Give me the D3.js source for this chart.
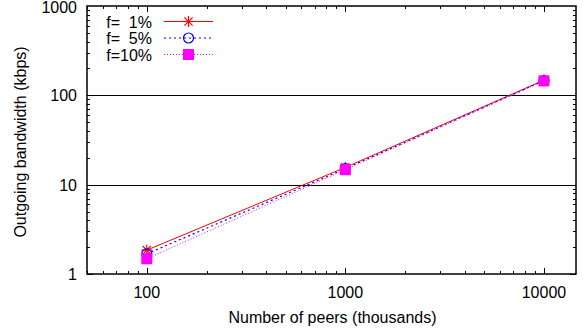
<!DOCTYPE html>
<html lang="en">
  <head>
    <meta charset="utf-8">
    <title>Outgoing bandwidth</title>
    <style>
      body { margin: 0; background: #fff; }
      text { font-family: "Liberation Sans", Arial, sans-serif; fill: #000; }
    </style>
  </head>
  <body>
    <svg id="chart"></svg>

    <script src="https://d3js.org/d3.v7.min.js"></script>

    <script type="text/javascript">
      // data
      const peers = [100, 1000, 10000];
      const f1 = [1.85, 15.6, 148];
      const f5 = [1.68, 15.1, 146];
      const f10 = [1.48, 14.7, 145];
      const seriesNames = ['f=  1%', 'f=  5%', 'f=10%'];
      const xTicks = [100, 1000, 10000];
      const yTicks = [1, 10, 100, 1000];
      const yGrid = [10, 100];

      const W = 584, H = 335;
      const pLeft = 87, pRight = 576, pTop = 6, pBottom = 274;
      const fs = 16;

      const svg = d3.select('#chart').attr('width', W).attr('height', H);

      const x = d3.scaleLog().domain([50, 14500]).range([pLeft, pRight]);
      const y = d3.scaleLog().domain([1, 1000]).range([pBottom, pTop]);

      // grid lines
      svg.selectAll('.grid').data(yGrid).join('line')
        .attr('x1', pLeft).attr('x2', pRight)
        .attr('y1', d => Math.round(y(d)) + 0.5).attr('y2', d => Math.round(y(d)) + 0.5)
        .attr('stroke', '#000').attr('stroke-width', 1);

      // minor and major ticks, mirrored on all sides
      const xMinor = [];
      for (let e = 10; e <= 10000; e *= 10)
        for (let m = 1; m < 10; m++) {
          const v = e * m;
          if (v >= 50 && v <= 14500) xMinor.push(v);
        }
      const yMinor = [];
      for (let e = 1; e < 1000; e *= 10)
        for (let m = 1; m < 10; m++) yMinor.push(e * m);

      const tickG = svg.append('g').attr('stroke', '#000').attr('stroke-width', 1);
      xMinor.forEach(v => {
        const len = xTicks.includes(v) ? 6 : 3;
        const px = Math.round(x(v)) + 0.5;
        tickG.append('line').attr('x1', px).attr('x2', px).attr('y1', pBottom).attr('y2', pBottom - len);
        tickG.append('line').attr('x1', px).attr('x2', px).attr('y1', pTop).attr('y2', pTop + len);
      });
      yMinor.forEach(v => {
        const len = yTicks.includes(v) ? 6 : 3;
        const py = Math.round(y(v)) + 0.5;
        tickG.append('line').attr('x1', pLeft).attr('x2', pLeft + len).attr('y1', py).attr('y2', py);
        tickG.append('line').attr('x1', pRight).attr('x2', pRight - len).attr('y1', py).attr('y2', py);
      });

      // tick labels
      svg.selectAll('.xl').data(xTicks).join('text')
        .attr('x', d => x(d)).attr('y', pBottom + 24)
        .attr('text-anchor', 'middle').attr('font-size', fs)
        .text(d => d);
      svg.selectAll('.yl').data(yTicks).join('text')
        .attr('x', pLeft - 10).attr('y', d => Math.max(y(d) + 6, 13))
        .attr('text-anchor', 'end').attr('font-size', fs)
        .text(d => d);

      // axis titles
      svg.append('text')
        .attr('x', (pLeft + pRight) / 2 + 1).attr('y', 323)
        .attr('text-anchor', 'middle').attr('font-size', fs)
        .text('Number of peers (thousands)');
      svg.append('text')
        .attr('transform', 'translate(25.5,142) rotate(-90)')
        .attr('text-anchor', 'middle').attr('font-size', fs)
        .text('Outgoing bandwidth (kbps)');

      // series
      const series = [
        { name: seriesNames[0], values: f1, color: '#ff0000', dash: null, width: 1, marker: 'star' },
        { name: seriesNames[1], values: f5, color: '#0000ff', dash: '2,3', width: 1.2, marker: 'circle' },
        { name: seriesNames[2], values: f10, color: '#ff00ff', dash: '1,2', width: 1, marker: 'square' }
      ];

      const line = d3.line().x(d => x(d[0])).y(d => y(d[1]));

      function drawMarker(g, kind, cx, cy, color) {
        if (kind === 'star') {
          const r = 5.5;
          const p = g.append('g').attr('stroke', color).attr('stroke-width', 1.2);
          p.append('line').attr('x1', cx - r).attr('x2', cx + r).attr('y1', cy).attr('y2', cy);
          p.append('line').attr('x1', cx).attr('x2', cx).attr('y1', cy - r).attr('y2', cy + r);
          p.append('line').attr('x1', cx - r * 0.75).attr('x2', cx + r * 0.75).attr('y1', cy - r * 0.75).attr('y2', cy + r * 0.75);
          p.append('line').attr('x1', cx - r * 0.75).attr('x2', cx + r * 0.75).attr('y1', cy + r * 0.75).attr('y2', cy - r * 0.75);
        } else if (kind === 'circle') {
          g.append('circle').attr('cx', cx).attr('cy', cy).attr('r', 5)
            .attr('fill', 'none').attr('stroke', color).attr('stroke-width', 1.2);
        } else {
          g.append('rect').attr('x', cx - 5.5).attr('y', cy - 5.5)
            .attr('width', 11).attr('height', 11).attr('fill', color);
        }
      }

      series.forEach(s => {
        const pts = peers.map((p, i) => [p, s.values[i]]);
        svg.append('path').datum(pts)
          .attr('d', line)
          .attr('fill', 'none')
          .attr('stroke', s.color)
          .attr('stroke-width', s.width)
          .attr('stroke-dasharray', s.dash);
        const g = svg.append('g');
        pts.forEach(d => drawMarker(g, s.marker, x(d[0]), y(d[1]), s.color));
      });

      // legend
      series.forEach((s, i) => {
        const ly = 21.5 + i * 16.5;
        svg.append('text')
          .attr('x', 152).attr('y', ly + 6)
          .attr('text-anchor', 'end').attr('font-size', fs)
          .attr('xml:space', 'preserve')
          .style('white-space', 'pre')
          .text(s.name);
        svg.append('line')
          .attr('x1', 164).attr('x2', 213).attr('y1', ly).attr('y2', ly)
          .attr('stroke', s.color).attr('stroke-width', s.width)
          .attr('stroke-dasharray', s.dash);
        drawMarker(svg.append('g'), s.marker, 188.5, ly, s.color);
      });

      // border
      svg.append('rect')
        .attr('x', pLeft).attr('y', pTop)
        .attr('width', pRight - pLeft).attr('height', pBottom - pTop)
        .attr('fill', 'none').attr('stroke', '#000').attr('stroke-width', 1.5);
    </script>
  </body>
</html>
